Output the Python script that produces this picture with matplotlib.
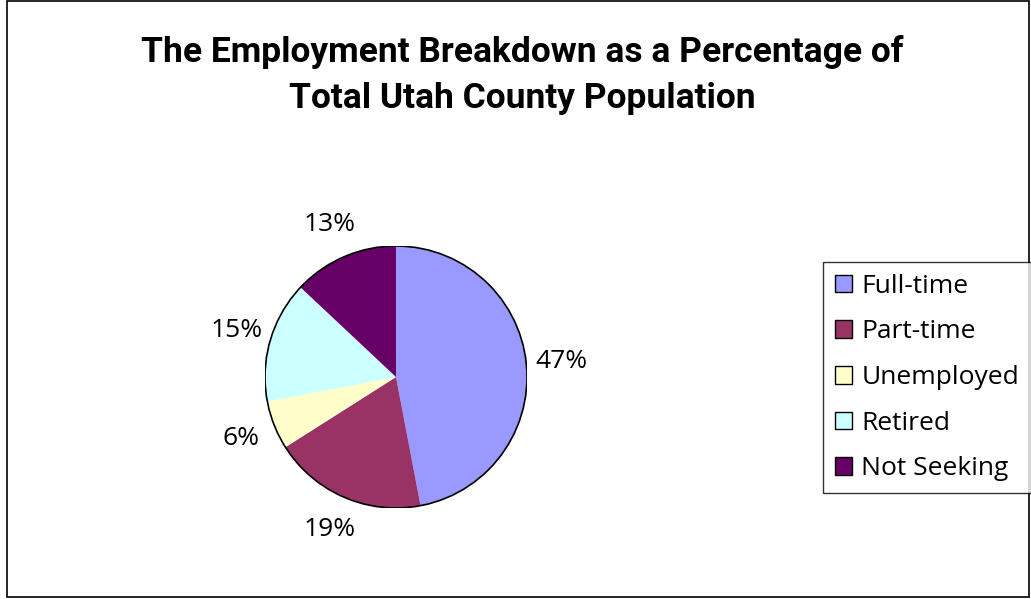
import matplotlib.pyplot as plt
from matplotlib.patches import Circle, Rectangle

labels = ["Full-time", "Part-time", "Unemployed", "Retired", "Not Seeking"]
values = [47, 19, 6, 15, 13]
colors = ["#9999FF", "#993366", "#FFFFCC", "#CCFFFF", "#660066"]

fig = plt.figure(figsize=(10.31, 5.99), dpi=100)

# outer chart border
fig.patches.append(Rectangle((0.007, 0.003), 0.991, 0.995, transform=fig.transFigure,
                             fill=False, edgecolor="black", linewidth=1.2))

title_font = dict(ha="center", va="center", fontsize=25.5, fontweight="bold",
                  family="Roboto")
fig.text(0.507, 0.914, "The Employment Breakdown as a Percentage of", **title_font)
fig.text(0.507, 0.836, "Total Utah County Population", **title_font)

ax = fig.add_axes([265 / 1031, (599 - 508) / 599, 262 / 1031, 262 / 599])
wedges, texts, pcts = ax.pie(
    values, colors=colors, startangle=90, counterclock=False, radius=1,
    autopct="%d%%", pctdistance=1.27,
    wedgeprops=dict(linewidth=0),
    textprops=dict(fontsize=19, family="Open Sans"),
)
ax.add_patch(Circle((0, 0), 1, fill=False, edgecolor="black", linewidth=1.2))
ax.set_xlim(-1, 1)
ax.set_ylim(-1, 1)
ax.set_aspect("equal")
ax.axis("off")

leg = fig.legend(wedges, labels, loc="upper left",
                 bbox_to_anchor=(823 / 1031, 1 - 262 / 599),
                 frameon=True, fancybox=False, edgecolor="black",
                 prop=dict(size=19, family="Open Sans"),
                 handlelength=0.65, handleheight=0.65, handletextpad=0.35,
                 labelspacing=0.78, borderpad=0.45, borderaxespad=0)
leg.get_frame().set_linewidth(1.0)
for h in leg.legend_handles:
    h.set_edgecolor("black")
    h.set_linewidth(1.0)

fig.savefig("out.png", dpi=100)
